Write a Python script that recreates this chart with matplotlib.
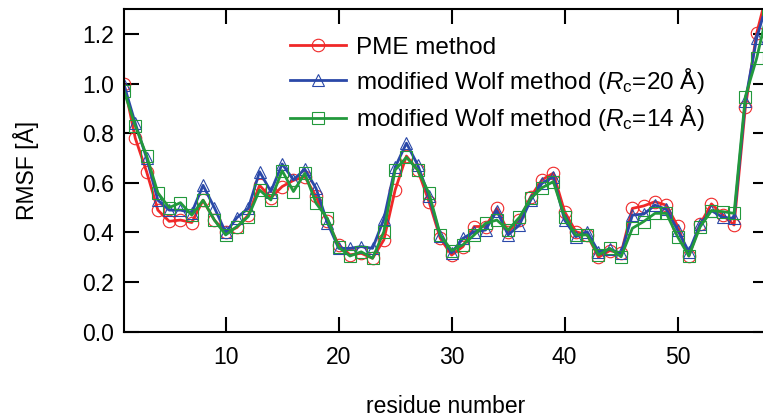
""" RMSF per residue: PME vs modified Wolf method.
"""
import matplotlib
matplotlib.use("Agg")
import matplotlib.pyplot as plt
import numpy as np

plt.rcParams['font.family'] = ['Liberation Sans', 'DejaVu Sans']
plt.rcParams['mathtext.fontset'] = 'custom'
plt.rcParams['mathtext.rm'] = 'Liberation Sans'
plt.rcParams['mathtext.it'] = 'Liberation Sans:italic'

residues = np.arange(1, 59)

rmsf_pme = [1.00, 0.78, 0.645, 0.49, 0.445, 0.45, 0.44, 0.53, 0.45, 0.40,
            0.42, 0.47, 0.59, 0.54, 0.585, 0.61, 0.625, 0.545, 0.445, 0.35,
            0.31, 0.316, 0.296, 0.37, 0.571, 0.708, 0.652, 0.524, 0.376, 0.309,
            0.343, 0.424, 0.424, 0.497, 0.403, 0.45, 0.544, 0.612, 0.639, 0.484,
            0.403, 0.39, 0.30, 0.327, 0.316, 0.497, 0.507, 0.524, 0.51, 0.426,
            0.305, 0.434, 0.515, 0.471, 0.43, 0.905, 1.203, 1.38]

rmsf_wolf20 = [0.995, 0.84, 0.70, 0.53, 0.49, 0.49, 0.48, 0.59, 0.50, 0.40,
               0.46, 0.497, 0.645, 0.565, 0.676, 0.612, 0.655, 0.578, 0.44, 0.336,
               0.336, 0.343, 0.336, 0.453, 0.663, 0.76, 0.672, 0.545, 0.386, 0.318,
               0.376, 0.403, 0.41, 0.488, 0.39, 0.43, 0.531, 0.598, 0.625, 0.45,
               0.383, 0.403, 0.322, 0.332, 0.316, 0.47, 0.474, 0.51, 0.493, 0.41,
               0.322, 0.434, 0.488, 0.461, 0.457, 0.931, 1.183, 1.34]

rmsf_wolf14 = [0.97, 0.83, 0.71, 0.56, 0.50, 0.52, 0.47, 0.53, 0.45, 0.39,
               0.424, 0.464, 0.571, 0.531, 0.649, 0.565, 0.638, 0.518, 0.457, 0.34,
               0.305, 0.322, 0.296, 0.403, 0.652, 0.703, 0.652, 0.558, 0.39, 0.327,
               0.35, 0.39, 0.437, 0.45, 0.41, 0.461, 0.538, 0.58, 0.605, 0.464,
               0.39, 0.39, 0.309, 0.336, 0.302, 0.417, 0.444, 0.477, 0.477, 0.383,
               0.305, 0.423, 0.488, 0.484, 0.477, 0.948, 1.102, 1.30]

labels = ['PME method',
          r'modified Wolf method ($R_\mathrm{c}$=20 Å)',
          r'modified Wolf method ($R_\mathrm{c}$=14 Å)']

fs = 16.5

fig = plt.figure(figsize=(7.63, 4.18), dpi=100)
ax = fig.add_axes([0.1625, 0.2065, 0.844, 0.7715])

style = dict(lw=2, markersize=9, markerfacecolor='none', markeredgewidth=0.8)
ax.plot(residues, rmsf_pme, marker='o', color='#f02828', label=labels[0], **style)
ax.plot(residues, rmsf_wolf20, marker='^', color='#2a48a8', label=labels[1], **style)
ax.plot(residues, rmsf_wolf14, marker='s', color='#22993c', label=labels[2], **style)

ax.set_xlim(1, 58)
ax.set_ylim(0, 1.3)
ax.set_xticks([10, 20, 30, 40, 50])
ax.set_yticks(np.arange(0, 1.21, 0.2))
ax.yaxis.set_major_formatter(plt.FormatStrFormatter('%.1f'))
ax.tick_params(direction='in', length=11, width=1.5, labelsize=fs,
               top=True, right=True)
ax.tick_params(axis='y', pad=7)
ax.tick_params(axis='x', pad=10)
for s in ax.spines.values():
    s.set_linewidth(1.5)

ax.set_xlabel('residue number', fontsize=fs, labelpad=19)
ax.set_ylabel('RMSF [Å]', fontsize=fs, labelpad=31)

ax.legend(loc='upper left', bbox_to_anchor=(0.243, 0.945), frameon=False,
          fontsize=17.5, handlelength=2.3, labelspacing=0.3, handletextpad=0.4,
          borderaxespad=0)

plt.savefig('out.png', dpi=100)
